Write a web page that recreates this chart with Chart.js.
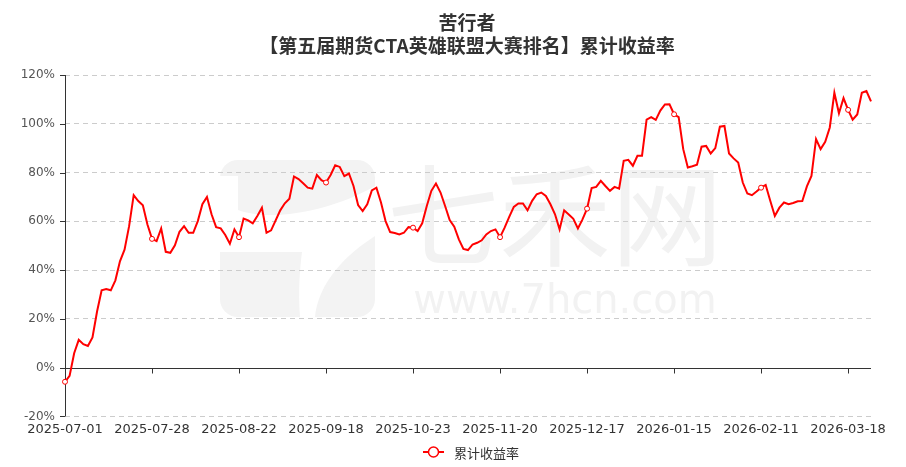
<!DOCTYPE html>
<html>
<head>
<meta charset="utf-8">
<script src="https://cdn.jsdelivr.net/npm/chart.js@4.4.1/dist/chart.umd.min.js"></script>
<style>
  body { margin: 0; background: #fff; overflow: hidden; }
  #wrap { position: relative; width: 906px; height: 467px; }
  #title {
    position: absolute; left: 0; top: 10px; width: 906px; padding-left: 28px; box-sizing: border-box;
    text-align: center; font: bold 19px "Noto Sans CJK SC", sans-serif; line-height: 23px; color: #333;
  }
  #legend {
    position: absolute; left: 423px; top: 444px; height: 16px; display: flex; align-items: center;
    font: 13px "Noto Sans CJK SC", sans-serif; color: #333;
  }
  #legend span { margin-left: 10px; }
</style>
</head>
<body>
<div id="wrap">
  <canvas id="c" width="906" height="467"></canvas>
  <div id="title">苦行者<br>【第五届期货CTA英雄联盟大赛排名】累计收益率</div>
  <div id="legend">
    <svg width="21" height="14"><line x1="0" y1="7" x2="21" y2="7" stroke="#f00" stroke-width="2"/><circle cx="10.5" cy="7" r="5" fill="#fff" stroke="#f00" stroke-width="1.5"/></svg>
    <span>累计收益率</span>
  </div>
</div>
<script>
// x axis shows one date every 19 trading days
const tickLabels = ['2025-07-01', '2025-07-28', '2025-08-22', '2025-09-18', '2025-10-23',
  '2025-11-20', '2025-12-17', '2026-01-15', '2026-02-11', '2026-03-18'];
const tickEvery = 19;

// cumulative return, %
const returns = [
  -5.8, -3.4, 5.9, 11.4, 9.6, 8.9, 12.4, 23.0, 31.7, 32.2,
  31.7, 35.8, 43.6, 48.4, 58.0, 70.7, 68.3, 66.6, 58.7, 52.8,
  51.9, 57.1, 47.5, 47.1, 50.2, 55.7, 58.0, 55.3, 55.3, 60.1,
  67.0, 70.0, 62.9, 57.6, 57.1, 54.4, 50.8, 56.7, 53.5, 61.1,
  60.4, 59.2, 62.2, 65.6, 55.3, 56.3, 60.4, 64.5, 67.4, 69.3,
  78.4, 77.3, 75.6, 73.8, 73.4, 79.0, 76.9, 75.9, 79.0, 83.0,
  82.3, 78.5, 79.6, 74.5, 66.7, 64.2, 67.0, 72.7, 73.8, 67.7,
  60.1, 55.6, 55.2, 54.6, 55.3, 57.6, 57.4, 56.0, 59.2, 66.3,
  72.5, 75.5, 71.8, 66.3, 60.5, 57.8, 52.6, 48.7, 48.2, 50.5,
  51.2, 52.2, 54.6, 56.0, 56.7, 53.5, 57.4, 61.8, 65.9, 67.3,
  67.3, 64.5, 68.4, 71.1, 71.8, 70.4, 67.0, 62.9, 56.7, 64.5,
  62.8, 61.0, 57.1, 60.8, 65.2, 73.6, 74.1, 76.6, 74.5, 72.5,
  74.1, 73.4, 84.8, 85.2, 82.8, 86.9, 86.9, 101.7, 102.7, 101.6,
  105.4, 107.9, 108.0, 103.9, 102.7, 89.6, 82.1, 82.6, 83.2, 90.6,
  90.9, 87.8, 90.0, 98.8, 99.1, 87.8, 85.8, 84.1, 75.9, 71.4,
  70.7, 72.2, 73.8, 74.9, 68.4, 62.2, 65.6, 67.7, 67.0, 67.5,
  68.2, 68.3, 74.3, 78.6, 93.7, 89.6, 92.6, 98.5, 112.7, 104.3,
  110.5, 105.7, 101.7, 103.8, 112.7, 113.4, 109.2
];

const labels = returns.map((v, i) => (i % tickEvery === 0 ? tickLabels[i / tickEvery] : ''));

// watermark, zero axis line and the small tick marks
const decor = {
  id: 'decor',
  beforeDraw(chart) {
    const ctx = chart.ctx;
    ctx.save();
    // rough logo block
    ctx.fillStyle = '#f3f3f3';
    ctx.beginPath();
    ctx.roundRect(220, 160, 155, 157, 18);
    ctx.fill();
    ctx.fillStyle = '#fff';
    ctx.beginPath();
    ctx.moveTo(220, 176);
    ctx.lineTo(238, 176);
    ctx.lineTo(238, 210);
    ctx.bezierCurveTo(270, 222, 330, 212, 375, 186);
    ctx.lineTo(375, 236);
    ctx.bezierCurveTo(335, 262, 318, 290, 315, 317);
    ctx.lineTo(300, 317);
    ctx.bezierCurveTo(298, 290, 300, 268, 302, 252);
    ctx.lineTo(220, 252);
    ctx.closePath();
    ctx.fill();

    ctx.fillStyle = '#f2f2f2';
    ctx.textAlign = 'center';
    ctx.textBaseline = 'middle';
    ctx.font = '112px "Noto Sans CJK SC"';
    ctx.fillText('七禾网', 555, 215);
    ctx.textBaseline = 'alphabetic';
    ctx.font = '40px "DejaVu Sans"';
    ctx.fillText('www.7hcn.com', 565, 313);
    ctx.restore();
  },
  beforeDatasetsDraw(chart) {
    const { ctx, chartArea: a, scales: { x, y } } = chart;
    const y0 = Math.round(y.getPixelForValue(0)) + 0.5;
    const left = Math.round(a.left) + 0.5;
    ctx.save();
    ctx.strokeStyle = '#333';
    ctx.lineWidth = 1;
    ctx.beginPath();
    ctx.moveTo(left, a.top);
    ctx.lineTo(left, a.bottom);
    ctx.moveTo(a.left, y0);
    ctx.lineTo(a.right, y0);
    for (let i = 0; i < returns.length; i += tickEvery) {
      const px = Math.round(x.getPixelForValue(i)) + 0.5;
      ctx.moveTo(px, y0);
      ctx.lineTo(px, y0 + 5);
    }
    y.ticks.forEach(t => {
      const py = Math.round(y.getPixelForValue(t.value)) + 0.5;
      ctx.moveTo(a.left - 5, py);
      ctx.lineTo(a.left, py);
    });
    ctx.stroke();
    ctx.restore();
  }
};

new Chart(document.getElementById('c'), {
  type: 'line',
  data: {
    labels: labels,
    datasets: [{
      label: '累计收益率',
      data: returns,
      borderColor: '#ff0000',
      borderWidth: 2,
      tension: 0,
      clip: false,
      pointRadius: ctx => (ctx.dataIndex % tickEvery === 0 ? 2.5 : 0),
      pointBackgroundColor: '#fff',
      pointBorderColor: '#ff0000',
      pointBorderWidth: 1
    }]
  },
  options: {
    responsive: false,
    animation: false,
    events: [],
    layout: { padding: { left: 0, right: 35, top: 75, bottom: 25 } },
    plugins: { legend: { display: false }, title: { display: false }, tooltip: { enabled: false } },
    scales: {
      x: {
        grid: { display: false, drawTicks: false },
        border: { display: false },
        ticks: {
          autoSkip: false,
          maxRotation: 0,
          padding: 5,
          color: '#333',
          font: { family: 'DejaVu Sans', size: 13 }
        }
      },
      y: {
        min: -20,
        max: 120,
        afterFit: s => { s.width = 65; },
        grid: {
          drawTicks: false,
          color: ctx => (ctx.tick && ctx.tick.value === 0 ? 'rgba(0,0,0,0)' : '#cccccc')
        },
        border: { display: false, dash: [5, 4] },
        ticks: {
          stepSize: 20,
          padding: 10,
          color: '#555',
          font: { family: 'DejaVu Sans', size: 12 },
          callback: v => v + '%'
        }
      }
    }
  },
  plugins: [decor]
});
</script>
</body>
</html>
